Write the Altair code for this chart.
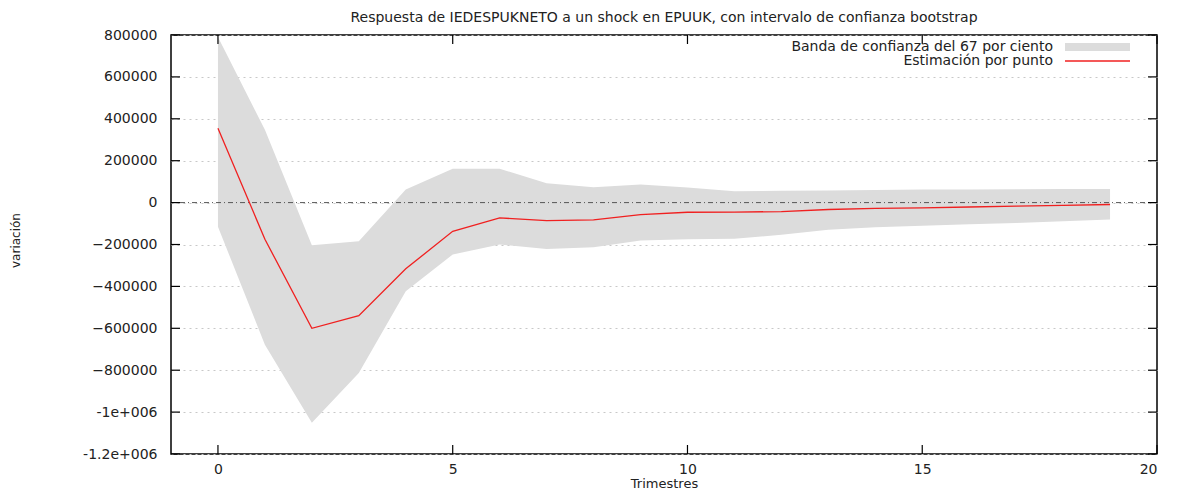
import altair as alt
import pandas as pd

periods = list(range(20))
point = [355000, -175000, -600000, -540000, -316000, -137000, -73000, -86000,
         -82000, -57000, -46000, -45000, -43000, -33000, -28000, -25000,
         -21000, -17000, -13000, -9000]
upper = [790000, 348000, -204000, -185000, 62000, 162000, 162000, 92000,
         73000, 86000, 72000, 54000, 56000, 58000, 60000, 62000,
         63000, 64000, 65000, 65000]
lower = [-115000, -678000, -1051000, -813000, -423000, -248000, -200000, -221000,
         -213000, -181000, -175000, -173000, -153000, -129000, -118000, -110000,
         -103000, -97000, -89000, -81000]
x_ticks = [0, 5, 10, 15, 20]
y_ticks = [800000, 600000, 400000, 200000, 0, -200000, -400000, -600000,
           -800000, -1000000, -1200000]
title_text = "Respuesta de IEDESPUKNETO a un shock en EPUUK, con intervalo de confianza bootstrap"
legend_band = "Banda de confianza del 67 por ciento"
legend_line = "Estimación por punto"

FONT = "DejaVu Sans"
df = pd.DataFrame({"t": periods, "point": point, "upper": upper, "lower": lower})
xt = pd.DataFrame({"v": x_ticks})
yt = pd.DataFrame({"v": y_ticks})

xscale = alt.Scale(domain=[-1, 20], nice=False, zero=False)
yscale = alt.Scale(domain=[-1200000, 800000], nice=False, zero=False)

label_expr = ("datum.value == -1000000 ? '-1e+006' : datum.value == -1200000 ? "
              "'-1.2e+006' : format(datum.value, 'd')")

base = alt.Chart(df)

band = base.mark_area(color="#dcdcdc", opacity=1).encode(
    x=alt.X("t:Q", scale=xscale,
            axis=alt.Axis(values=x_ticks, ticks=False, domain=False, grid=False,
                          labelFont=FONT, labelFontSize=14, labelColor="#222",
                          labelPadding=8, title="Trimestres", titleFont=FONT,
                          titleFontSize=13, titleFontWeight="normal",
                          titleColor="#222", titleY=29, titleBaseline="middle")),
    y=alt.Y("upper:Q", scale=yscale,
            axis=alt.Axis(values=y_ticks, ticks=False, domain=False, grid=True,
                          gridColor="#c8c8c8", gridDash=[2, 4], gridWidth=1,
                          labelFont=FONT, labelFontSize=14, labelColor="#222",
                          labelPadding=14, labelExpr=label_expr,
                          title="variación", titleFont=FONT, titleFontSize=12,
                          titleFontWeight="normal", titleColor="#222",
                          titleX=-156, titleY=205, titleAngle=-90,
                          titleBaseline="middle")),
    y2="lower:Q",
)

zero = alt.Chart(pd.DataFrame({"z": [0]})).mark_rule(
    color="#555", strokeDash=[5, 3, 1, 3], strokeWidth=1).encode(
    y=alt.Y("z:Q", scale=yscale))

line = base.mark_line(color="#f02020", strokeWidth=1.3).encode(
    x=alt.X("t:Q", scale=xscale), y=alt.Y("point:Q", scale=yscale))

ytick_l = alt.Chart(yt).mark_rule(color="black", strokeWidth=1.2).encode(
    y=alt.Y("v:Q", scale=yscale), x=alt.value(0), x2=alt.value(9))
ytick_r = alt.Chart(yt).mark_rule(color="black", strokeWidth=1.2).encode(
    y=alt.Y("v:Q", scale=yscale), x=alt.value(977), x2=alt.value(986))
xtick_b = alt.Chart(xt).mark_rule(color="black", strokeWidth=1.2).encode(
    x=alt.X("v:Q", scale=xscale), y=alt.value(410), y2=alt.value(419))
xtick_t = alt.Chart(xt).mark_rule(color="black", strokeWidth=1.2).encode(
    x=alt.X("v:Q", scale=xscale), y=alt.value(0), y2=alt.value(9))

leg_text1 = alt.Chart(pd.DataFrame({"txt": [legend_band]})).mark_text(
    align="right", baseline="middle", font=FONT, fontSize=14, color="#222").encode(
    x=alt.value(882), y=alt.value(12), text="txt:N")
leg_text2 = alt.Chart(pd.DataFrame({"txt": [legend_line]})).mark_text(
    align="right", baseline="middle", font=FONT, fontSize=14, color="#222").encode(
    x=alt.value(882), y=alt.value(26), text="txt:N")
leg_band = alt.Chart(pd.DataFrame({"k": [0]})).mark_rect(color="#dcdcdc").encode(
    x=alt.value(894), x2=alt.value(959), y=alt.value(8), y2=alt.value(16))
leg_line = alt.Chart(pd.DataFrame({"k": [1]})).mark_rule(
    color="#f02020", strokeWidth=1.3).encode(
    x=alt.value(894), x2=alt.value(959), y=alt.value(26))

chart = alt.layer(band, zero, line, ytick_l, ytick_r, xtick_b, xtick_t,
                  leg_text1, leg_text2, leg_band, leg_line).properties(
    width=986, height=419,
    autosize=alt.AutoSizeParams(type="none"),
    padding={"left": 163, "top": 27, "right": 10, "bottom": 38},
    title=alt.TitleParams(title_text, font=FONT, fontSize=14, fontWeight="normal",
                          color="#222", anchor="middle", offset=3),
).configure_view(stroke="black", strokeWidth=1.5)

chart.save("out.html", embed_options={"renderer": "svg", "actions": False})
